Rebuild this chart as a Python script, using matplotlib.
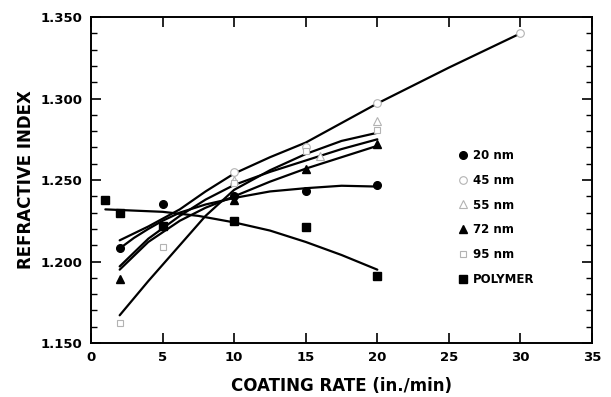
import matplotlib
matplotlib.use("Agg")
import matplotlib.pyplot as plt
from matplotlib.ticker import MultipleLocator

plt.rcParams["font.family"] = ["DejaVu Sans"]
plt.rcParams["font.weight"] = "bold"

# measured points (coating rate in./min, refractive index)
x_20 = [2, 5, 10, 15, 20]
y_20 = [1.208, 1.235, 1.240, 1.243, 1.247]
x_45 = [10, 15, 20, 30]
y_45 = [1.255, 1.270, 1.297, 1.340]
x_55 = [10, 16, 20]
y_55 = [1.250, 1.265, 1.286]
x_72 = [2, 10, 15, 20]
y_72 = [1.189, 1.238, 1.257, 1.272]
x_95 = [2, 5, 10, 15, 20]
y_95 = [1.162, 1.209, 1.248, 1.268, 1.281]
x_poly = [1, 2, 5, 10, 15, 20]
y_poly = [1.238, 1.230, 1.222, 1.225, 1.221, 1.191]

# hand drawn trend curves
cx_20 = [2, 3, 4, 5, 6.2, 8, 10, 12.5, 15, 17.5, 20]
cy_20 = [1.208, 1.2145, 1.220, 1.225, 1.230, 1.235, 1.239, 1.243, 1.245, 1.2465, 1.246]
cx_45 = [2, 4, 6.2, 8, 10, 12.5, 15, 17.5, 20, 25, 30]
cy_45 = [1.213, 1.2215, 1.232, 1.243, 1.254, 1.264, 1.273, 1.285, 1.297, 1.319, 1.340]
cx_55 = [2, 4, 6.2, 8, 10, 12.5, 15, 17.5, 20]
cy_55 = [1.197, 1.214, 1.228, 1.238, 1.247, 1.255, 1.262, 1.269, 1.275]
cx_72 = [2, 4, 6.2, 8, 10, 12.5, 15, 17.5, 20]
cy_72 = [1.195, 1.212, 1.225, 1.233, 1.240, 1.249, 1.257, 1.264, 1.271]
cx_95 = [2, 4, 6, 8, 10, 12.5, 15, 17.5, 20]
cy_95 = [1.167, 1.188, 1.208, 1.228, 1.244, 1.256, 1.266, 1.274, 1.279]
cx_poly = [1, 5, 7.5, 10, 12.5, 15, 17.5, 20]
cy_poly = [1.232, 1.2305, 1.228, 1.224, 1.219, 1.212, 1.204, 1.195]

fig = plt.figure(figsize=(6.11, 3.97), dpi=100)
ax = fig.add_axes([0.149, 0.136, 0.82, 0.821])

# curves
for cx, cy in [(cx_20, cy_20), (cx_45, cy_45), (cx_55, cy_55),
               (cx_72, cy_72), (cx_95, cy_95), (cx_poly, cy_poly)]:
    ax.plot(cx, cy, color="black", lw=1.6, solid_capstyle="round",
            solid_joinstyle="round", zorder=2)

# markers
faint = "0.7"
h20, = ax.plot(x_20, y_20, "o", color="black", ms=5.5, ls="none", zorder=3, label="20 nm")
h45, = ax.plot(x_45, y_45, "o", mfc="white", mec=faint, mew=0.8, ms=5.5, ls="none", zorder=3, label="45 nm")
h55, = ax.plot(x_55, y_55, "^", mfc="white", mec=faint, mew=0.8, ms=5.5, ls="none", zorder=3, label="55 nm")
h72, = ax.plot(x_72, y_72, "^", color="black", ms=5.5, ls="none", zorder=3, label="72 nm")
h95, = ax.plot(x_95, y_95, "s", mfc="white", mec=faint, mew=0.8, ms=5, ls="none", zorder=3, label="95 nm")
hp, = ax.plot(x_poly, y_poly, "s", color="black", ms=5.5, ls="none", zorder=3, label="POLYMER")

ax.set_xlim(0, 35)
ax.set_ylim(1.150, 1.350)
ax.xaxis.set_major_locator(MultipleLocator(5))
ax.yaxis.set_major_locator(MultipleLocator(0.05))
ax.yaxis.set_minor_locator(MultipleLocator(0.01))
ax.yaxis.set_major_formatter(plt.FormatStrFormatter("%.3f"))
ax.tick_params(axis="both", which="major", direction="in", length=7, width=1.2,
               labelsize=9.5, top=True, right=True, pad=6)
ax.tick_params(axis="y", which="minor", direction="in", length=4, width=1.0, right=True)
for sp in ax.spines.values():
    sp.set_linewidth(1.4)

ax.set_xlabel("COATING RATE (in./min)", fontsize=12, fontweight="bold", labelpad=9)
ax.set_ylabel("REFRACTIVE INDEX", fontsize=12, fontweight="bold", labelpad=4)

ax.legend(handles=[h20, h45, h55, h72, h95, hp], loc="upper left",
          bbox_to_anchor=(0.725, 0.61), frameon=False, fontsize=8.5,
          handlelength=0.6, handletextpad=0.6, labelspacing=1.0,
          borderaxespad=0)

fig.savefig("out.png", dpi=100)
